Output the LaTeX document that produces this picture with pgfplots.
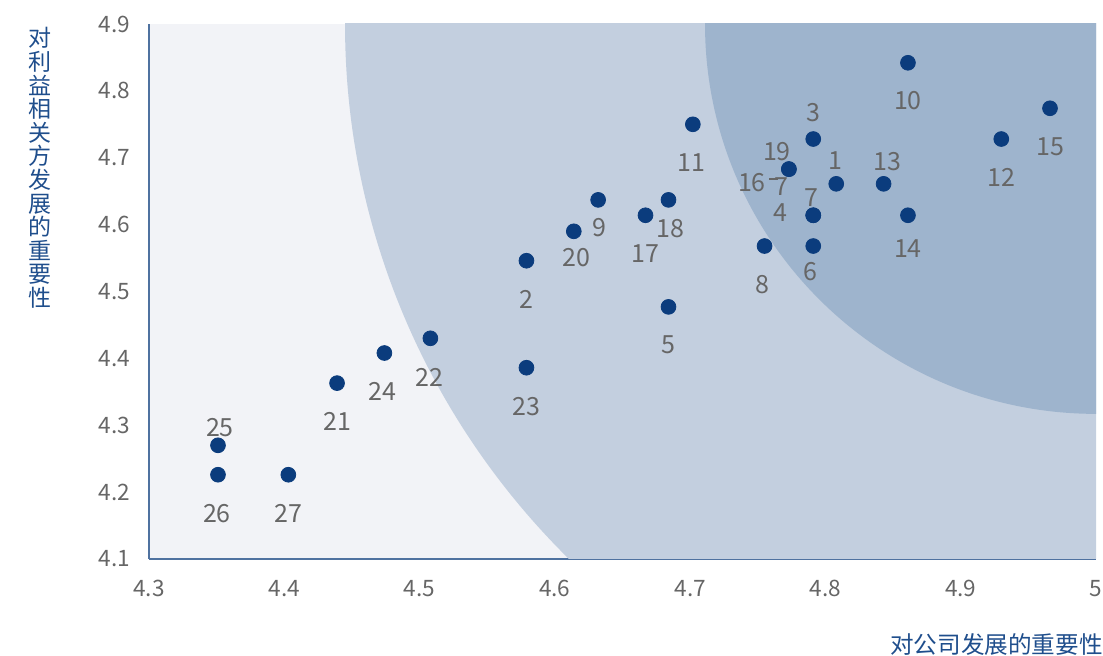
\documentclass[border=0pt]{standalone}
\usepackage{pgfplots}
\pgfplotsset{compat=1.18}
\usepackage{pgfplotstable}
\usepackage{fontspec}
\setmainfont{Noto Sans CJK SC}
\definecolor{bgc}{HTML}{F2F3F7}
\definecolor{midc}{HTML}{C3CFDF}
\definecolor{darkc}{HTML}{9EB4CD}
\definecolor{ptc}{HTML}{0B3C7D}
\definecolor{lblc}{HTML}{666666}
\definecolor{axc}{HTML}{4F72A0}
\definecolor{titc}{HTML}{1F4E8C}
\pgfplotstableread{
x y lbl dx dy
4.808 4.661 1 -0.5 11.5
4.579 4.546 2 0 -19.5
4.791 4.728 3 0 13
4.791 4.614 4 -16.5 1.5
4.684 4.477 5 0 -19
4.791 4.568 6 -1.5 -13
4.791 4.614 7 -1 9
4.755 4.568 8 -1 -19.5
4.632 4.637 9 0.5 -14
4.861 4.842 10 0 -19
4.702 4.750 11 -0.5 -19
4.930 4.728 12 0 -19
4.843 4.661 13 2 11
4.861 4.614 14 0 -16.5
4.966 4.774 15 0 -19
4.773 4.683 16 -18.5 -6.5
4.667 4.614 17 0 -19
4.684 4.637 18 1 -14.5
4.773 4.683 19 -6 9
4.614 4.590 20 1.5 -13
4.439 4.363 21 0 -19
4.508 4.430 22 -0.5 -19.5
4.579 4.386 23 0 -19.5
4.474 4.408 24 -1 -19
4.351 4.270 25 1 9
4.351 4.226 26 -0.5 -19.5
4.403 4.226 27 0 -19.5
}\pts
\begin{document}
\begin{tikzpicture}
\path[use as bounding box] (-74.5pt,-48.5pt) rectangle (477pt,279.5pt);
\begin{axis}[
  at={(0pt,0pt)}, anchor=origin,
  scale only axis,
  width=473.5pt, height=267.5pt,
  xmin=4.3, xmax=5, ymin=4.1, ymax=4.9,
  xtick={4.3,4.4,...,5.01}, ytick={4.1,4.2,...,4.91},
  xticklabels={4.3,4.4,4.5,4.6,4.7,4.8,4.9,5},
  yticklabels={4.1,4.2,4.3,4.4,4.5,4.6,4.7,4.8,4.9},
  major tick length=0pt,
  axis x line*=bottom, axis y line*=left,
  axis line style={draw=axc, line width=1pt, -},
  axis background/.style={fill=bgc},
  ticklabel style={font=\fontsize{11.3}{13}\selectfont, text=lblc},
  yticklabel style={xshift=-6pt},
  xticklabel style={yshift=-7pt},
  clip=true,
]
\fill[midc] (axis cs:5,4.9) ellipse [x radius=0.5551, y radius=1.1230];
\fill[darkc] (axis cs:5,4.9) ellipse [x radius=0.2890, y radius=0.5830];
\addplot[only marks, mark=*, mark size=3.7pt, mark options={fill=ptc, draw=ptc},
  point meta=explicit symbolic,
  visualization depends on={\thisrow{dx}\as\myDX},
  visualization depends on={\thisrow{dy}\as\myDY},
  nodes near coords,
  nodes near coords style={anchor=center, xshift=\myDX pt, yshift=\myDY pt,
    font=\fontsize{12.5}{14}\selectfont, text=lblc, inner sep=0pt},
] table[x=x, y=y, meta=lbl] {\pts};
\node[font=\fontsize{12.5}{14}\selectfont, text=lblc, inner sep=0pt] at (axis cs:4.773,4.683) [xshift=-5pt, yshift=-8.5pt] {\rule[0.62em]{0.35em}{0.07em}\kern-0.12em7};
\end{axis}
\node[font=\fontsize{11.5}{11.8}\selectfont, text=titc, align=center, inner sep=0pt] at (-54.5pt,195.5pt) {对\\利\\益\\相\\关\\方\\发\\展\\的\\重\\要\\性};
\node[font=\fontsize{11.8}{13}\selectfont, text=titc, anchor=east, inner sep=0pt] at (477pt,-43pt) {对公司发展的重要性};
\end{tikzpicture}
\end{document}
